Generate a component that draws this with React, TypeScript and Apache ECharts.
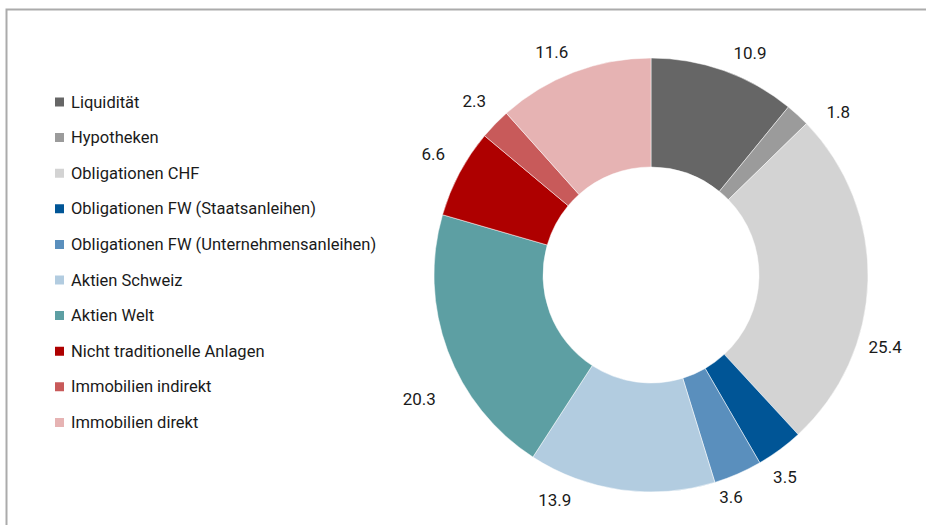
import React, { useEffect, useRef } from "react";
import * as echarts from "echarts";

const categories = [
  "Liquidität",
  "Hypotheken",
  "Obligationen CHF",
  "Obligationen FW (Staatsanleihen)",
  "Obligationen FW (Unternehmensanleihen)",
  "Aktien Schweiz",
  "Aktien Welt",
  "Nicht traditionelle Anlagen",
  "Immobilien indirekt",
  "Immobilien direkt",
];

const values = [10.9, 1.8, 25.4, 3.5, 3.6, 13.9, 20.3, 6.6, 2.3, 11.6];

const colors = [
  "#666666",
  "#9b9b9b",
  "#d3d3d3",
  "#005596",
  "#5a8fbd",
  "#b2cce0",
  "#5d9fa3",
  "#ae0000",
  "#c85a5a",
  "#e6b3b3",
];

// label placement style (manual placement in the reference): angle shift (deg) and radius of label centre
const labelAngleShift = [4.4, 6.5, 15.6, 2.8, 3.8, 15.2, -7.8, 1.0, 0.5, -3.1];
const labelRadius = [243, 248, 245, 242, 236, 245, 263, 249, 248, 244];

const FONT = "Roboto, 'Liberation Sans', sans-serif";
const CX = 651;
const CY = 275;

export default function App() {
  const ref = useRef<HTMLDivElement>(null);

  useEffect(() => {
    if (!ref.current) return;
    const chart = echarts.init(ref.current, undefined, { renderer: "svg" });
    const total = values.reduce((a, b) => a + b, 0);
    const mids: number[] = [];
    let cum = 0;
    values.forEach((v) => {
      mids.push(((cum + v / 2) / total) * 360);
      cum += v;
    });

    chart.setOption({
      animation: false,
      backgroundColor: "#ffffff",
      color: colors,
      graphic: [
        {
          type: "polyline",
          shape: { points: [[6.5, 525], [6.5, 9.5], [926, 9.5]] },
          style: { stroke: "#ababab", lineWidth: 2, fill: null },
          silent: true,
        },
      ],
      legend: {
        orient: "vertical",
        left: 53,
        top: 92,
        padding: 0,
        icon: "rect",
        itemWidth: 11,
        itemHeight: 11,
        itemGap: 15.6,
        selectedMode: false,
        textStyle: {
          fontFamily: FONT,
          fontSize: 16.5,
          lineHeight: 20,
          color: "#1a1a1a",
          padding: [0, 0, 0, 1],
        },
        data: categories,
      },
      series: [
        {
          type: "pie",
          center: [CX, CY],
          radius: [108, 217],
          startAngle: 90,
          clockwise: true,
          avoidLabelOverlap: false,
          itemStyle: { borderColor: "#ffffff", borderWidth: 0.5 },
          emphasis: { disabled: true },
          label: {
            show: true,
            position: "outside",
            formatter: (p: any) => p.value.toFixed(1),
            fontFamily: FONT,
            fontSize: 17,
            color: "#1a1a1a",
          },
          labelLine: { show: false },
          labelLayout: (params: any) => {
            const i = params.dataIndex;
            const a = ((mids[i] + labelAngleShift[i]) * Math.PI) / 180;
            const r = labelRadius[i];
            return {
              x: CX + r * Math.sin(a),
              y: CY - r * Math.cos(a),
              align: "center",
              verticalAlign: "middle",
            };
          },
          data: categories.map((name, i) => ({ name, value: values[i] })),
        },
      ],
    });
    return () => chart.dispose();
  }, []);

  return (
    <div
      ref={ref}
      style={{ position: "absolute", left: 0, top: 0, width: 926, height: 525 }}
    />
  );
}
